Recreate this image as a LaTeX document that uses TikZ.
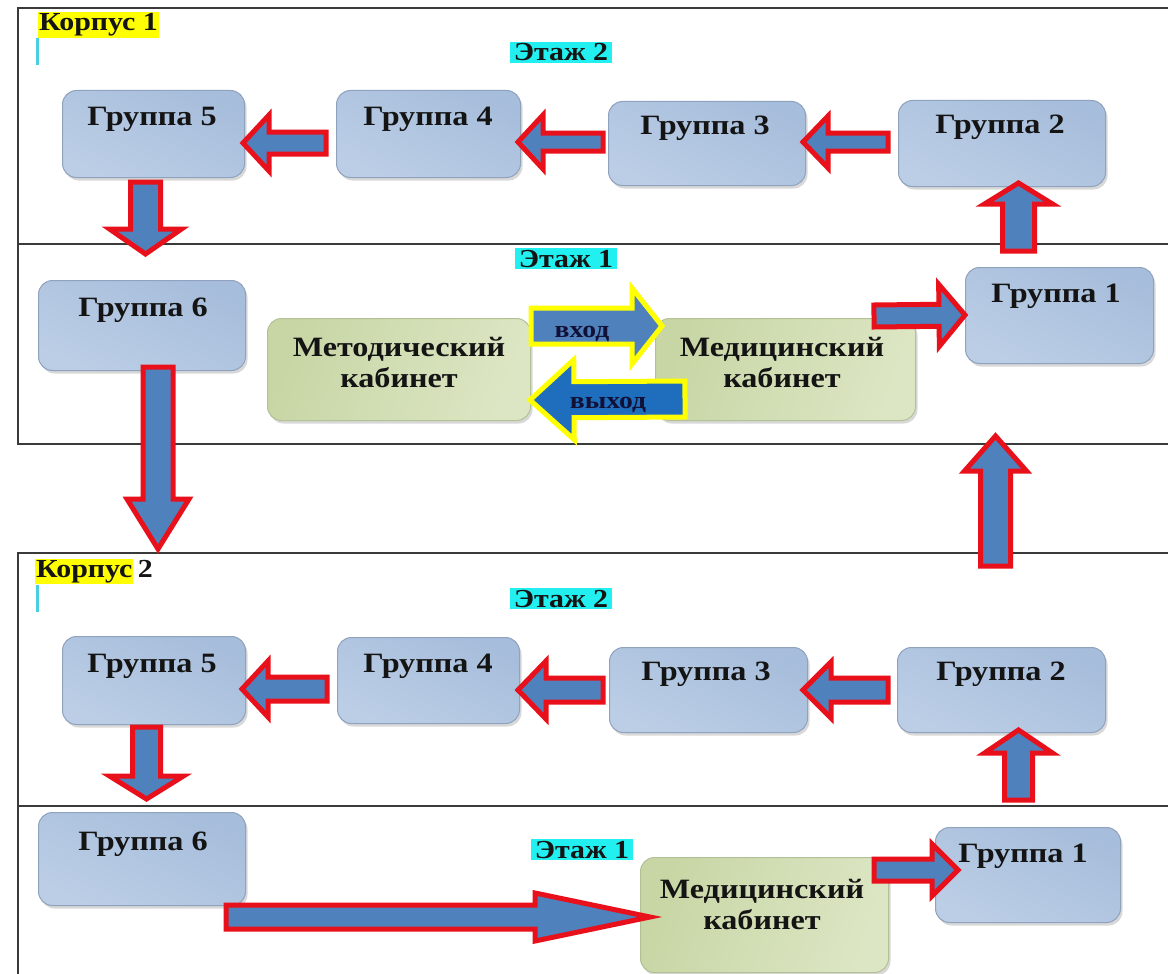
\documentclass[tikz,border=0pt]{standalone}
\usepackage{fontspec}
\setmainfont{Liberation Serif}[FakeStretch=1.15]
\usetikzlibrary{calc,shadows}
\definecolor{abl}{HTML}{4F81BD}
\definecolor{abl2}{HTML}{1F6DBD}
\definecolor{ared}{HTML}{E8101A}
\definecolor{ayel}{HTML}{FFFF00}
\definecolor{bA}{HTML}{A6BDDB}
\definecolor{bB}{HTML}{E0E9F4}
\definecolor{bC}{HTML}{BCCEE6}
\definecolor{bbord}{HTML}{8FA2BE}
\definecolor{gA}{HTML}{C8D6A5}
\definecolor{gB}{HTML}{F0F4E2}
\definecolor{gC}{HTML}{DCE6C4}
\definecolor{gbord}{HTML}{B3C296}
\definecolor{hcyan}{HTML}{22F0F0}
\definecolor{cursorc}{HTML}{48CFE0}
\definecolor{frame}{HTML}{3A3A3A}
\definecolor{txt}{HTML}{141414}
\setlength{\fboxsep}{1pt}
\newcommand\blockarr[6]{%
  \coordinate (hb) at ($(#3)!#6!(#2)$);
  \draw[#1] ($(#2)!#4!90:(#3)$) -- ($(hb)!#4!-90:(#2)$) -- ($(hb)!#5!-90:(#2)$)
    -- (#3) -- ($(hb)!#5!90:(#2)$) -- ($(hb)!#4!90:(#2)$) -- ($(#2)!#4!-90:(#3)$) -- cycle;}
\begin{document}
\begin{tikzpicture}[x=1pt,y=-1pt,
  sz/.style 2 args={minimum width=#1, minimum height=#2},
  bluebox/.style={rounded corners=14pt, draw=bbord, line width=1pt, inner sep=0pt,
    anchor=north west, top color=bA, middle color=bB, bottom color=bC, shading angle=-25,
    drop shadow={shadow xshift=2pt, shadow yshift=-3pt, opacity=0.3, fill=gray}},
  greenbox/.style={bluebox, draw=gbord, top color=gA, middle color=gB, bottom color=gC, shading angle=70},
  lbl/.style={font=\bfseries\fontsize{28}{31}\selectfont, text=txt, inner sep=0pt},
  lbl2/.style={font=\bfseries\fontsize{26}{30}\selectfont, text=txt, inner sep=0pt},
  hlc/.style={lbl2, fill=hcyan, inner xsep=4pt, inner ysep=2pt},
  hly/.style={lbl2, fill=ayel, inner xsep=1pt, inner ysep=1.5pt},
  small/.style={font=\bfseries\fontsize{24}{26}\selectfont, text=txt!85!blue, inner sep=0pt},
  redarr/.style={fill=abl, draw=ared, line width=5pt, line join=miter, miter limit=10},
  yelarr/.style={fill=abl, draw=ayel, line width=5pt, line join=miter, miter limit=10},
  yelarr2/.style={yelarr, fill=abl2},
  frm/.style={draw=frame, line width=2pt},
  cursor/.style={draw=cursorc, line width=3pt}
]
\useasboundingbox (0,0) rectangle (1168,974);
\fill[white] (0,0) rectangle (1168,974);
% ---------- frames ----------
\draw[frm] (1168,8) -- (18,8) -- (18,444) -- (1168,444);
\draw[frm] (18,244) -- (1168,244);
\draw[frm] (1168,553) -- (18,553) -- (18,974);
\draw[frm] (18,806) -- (1168,806);
% ---------- labels ----------
\node[hly, anchor=base west] (k1lab) at (38,31) {Корпус 1};
\draw[cursor] (37,38) -- (37,65);
\node[hlc, anchor=base] (k1e2) at (561,61) {Этаж 2};
\node[hlc, anchor=base] (k1e1) at (566,267) {Этаж 1};
\node[lbl2, anchor=base west] (k2lab) at (35,577) {\colorbox{ayel}{Корпус}\,2};
\draw[cursor] (37,585) -- (37,612);
\node[hlc, anchor=base] (k2e2) at (561,607) {Этаж 2};
\node[hlc, anchor=base] (k2e1) at (582,858) {Этаж 1};
% ---------- Korpus 1 boxes ----------
\node[bluebox, sz={182}{87}] (k1g5) at (62,90) {};
\node[bluebox, sz={184}{87}] (k1g4) at (336,90) {};
\node[bluebox, sz={197}{84}] (k1g3) at (608,101) {};
\node[bluebox, sz={207}{86}] (k1g2) at (898,100) {};
\node[bluebox, sz={188}{96}] (k1g1) at (965,267) {};
\node[bluebox, sz={207}{90}] (k1g6) at (38,280) {};
\node[greenbox, sz={263}{102}] (k1met) at (267,318) {};
\node[greenbox, sz={260}{102}] (k1med) at (655,318) {};
\node[lbl, anchor=base] (k1g5t) at (152,125) {Группа 5};
\node[lbl, anchor=base] (k1g4t) at (428,125) {Группа 4};
\node[lbl, anchor=base] (k1g3t) at (705,135) {Группа 3};
\node[lbl, anchor=base] (k1g2t) at (1000,133) {Группа 2};
\node[lbl, anchor=base] (k1g1t) at (1056,302) {Группа 1};
\node[lbl, anchor=base] (k1g6t) at (143,316) {Группа 6};
\node[lbl, align=center] (k1mett) at (399,362) {Методический\\кабинет};
\node[lbl, align=center] (k1medt) at (782,362) {Медицинский\\кабинет};
% ---------- Korpus 2 boxes ----------
\node[bluebox, sz={183}{88}] (k2g5) at (62,636) {};
\node[bluebox, sz={182}{86}] (k2g4) at (337,637) {};
\node[bluebox, sz={198}{85}] (k2g3) at (609,647) {};
\node[bluebox, sz={208}{85}] (k2g2) at (897,647) {};
\node[bluebox, sz={207}{93}] (k2g6) at (38,812) {};
\node[greenbox, sz={248}{115}] (k2med) at (640,857) {};
\node[bluebox, sz={185}{95}] (k2g1) at (935,827) {};
\node[lbl, anchor=base] (k2g5t) at (152,672) {Группа 5};
\node[lbl, anchor=base] (k2g4t) at (428,672) {Группа 4};
\node[lbl, anchor=base] (k2g3t) at (706,680) {Группа 3};
\node[lbl, anchor=base] (k2g2t) at (1001,680) {Группа 2};
\node[lbl, anchor=base] (k2g6t) at (143,850) {Группа 6};
\node[lbl, align=center] (k2medt) at (762,904) {Медицинский\\кабинет};
\node[lbl, anchor=base] (k2g1t) at (1023,862) {Группа 1};
% ---------- arrow coordinates ----------
\coordinate (a1s) at (326,143);   \coordinate (a1t) at (243,143);
\coordinate (a2s) at (603,142);   \coordinate (a2t) at (518,142);
\coordinate (a3s) at (888,142);   \coordinate (a3t) at (803,142);
\coordinate (a4s) at (145.5,182); \coordinate (a4t) at (145.5,254);
\coordinate (a5s) at (1018.5,251);\coordinate (a5t) at (1018.5,183);
\coordinate (a6s) at (531,326);   \coordinate (a6t) at (662,326);
\coordinate (a7s) at (685,399);   \coordinate (a7t) at (530,400);
\coordinate (a8s) at (874,316);   \coordinate (a8t) at (965,315);
\coordinate (a9s) at (158,367);   \coordinate (a9t) at (158,549);
\coordinate (a10s) at (995.5,566);\coordinate (a10t) at (995.5,436);
\coordinate (b1s) at (327,689);   \coordinate (b1t) at (242,689);
\coordinate (b2s) at (603,690);   \coordinate (b2t) at (518,690);
\coordinate (b3s) at (888,690);   \coordinate (b3t) at (803,690);
\coordinate (b4s) at (146.5,727); \coordinate (b4t) at (146.5,799);
\coordinate (b5s) at (1018.5,800);\coordinate (b5t) at (1018.5,730);
\coordinate (b6s) at (226,917);   \coordinate (b6t) at (650,917);
\coordinate (b7s) at (874,870);   \coordinate (b7t) at (958,870);
% ---------- arrows ----------
\blockarr{redarr}{a1s}{a1t}{11pt}{28pt}{26pt}
\blockarr{redarr}{a2s}{a2t}{9pt}{27pt}{25pt}
\blockarr{redarr}{a3s}{a3t}{9pt}{26pt}{25pt}
\blockarr{redarr}{a4s}{a4t}{15pt}{36pt}{25pt}
\blockarr{redarr}{a5s}{a5t}{16pt}{34pt}{21pt}
\blockarr{yelarr}{a6s}{a6t}{18pt}{38pt}{30pt}
\blockarr{yelarr2}{a7s}{a7t}{18pt}{40pt}{44pt}
\blockarr{redarr}{a8s}{a8t}{11pt}{31pt}{26pt}
\blockarr{redarr}{a9s}{a9t}{15pt}{31pt}{50pt}
\blockarr{redarr}{a10s}{a10t}{15pt}{31pt}{35pt}
\blockarr{redarr}{b1s}{b1t}{12pt}{28pt}{26pt}
\blockarr{redarr}{b2s}{b2t}{12pt}{29pt}{28pt}
\blockarr{redarr}{b3s}{b3t}{12pt}{28pt}{28pt}
\blockarr{redarr}{b4s}{b4t}{14pt}{37pt}{23pt}
\blockarr{redarr}{b5s}{b5t}{14pt}{34pt}{23pt}
\blockarr{redarr}{b6s}{b6t}{12pt}{24pt}{115pt}
\blockarr{redarr}{b7s}{b7t}{11pt}{26pt}{26pt}
\node[small, anchor=base] (vhod) at (582,337) {вход};
\node[small, anchor=base] (vyhod) at (608,408) {выход};
\end{tikzpicture}
\end{document}
